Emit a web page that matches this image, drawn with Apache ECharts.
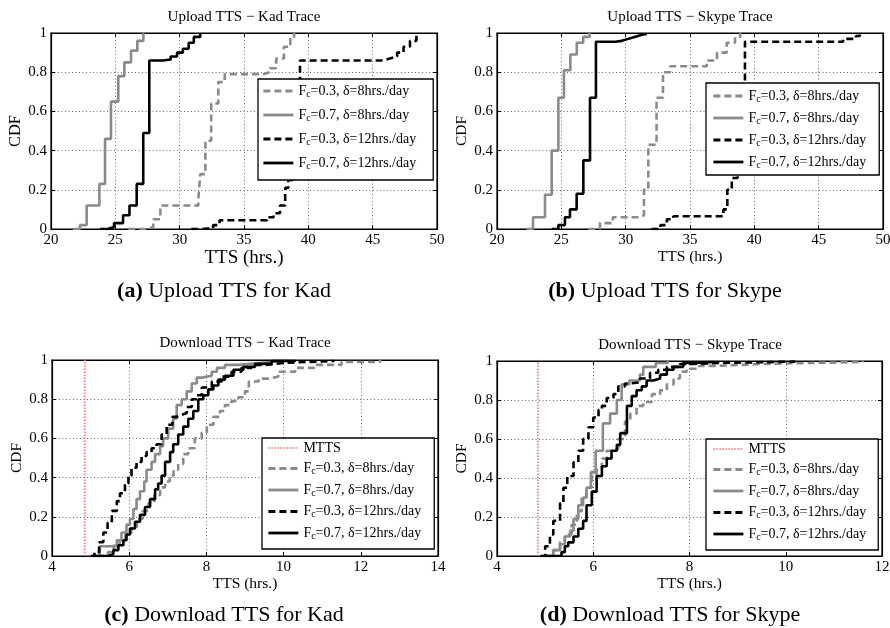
<!DOCTYPE html>
<html>
<head>
<meta charset="utf-8">
<script src="https://cdn.jsdelivr.net/npm/echarts@6/dist/echarts.min.js"></script>
<style>
  html, body { margin: 0; padding: 0; background: #fff; }
  #chart { width: 890px; height: 628px; }
</style>
</head>
<body>
<div id="chart"></div>
<script>
// ---- Upload TTS, Kad trace (x: hours, y: CDF) ----
const upKadX_03_8  = [26.0, 27.4, 27.95, 28.5, 31.45, 31.6, 32.0, 32.45, 33.0, 33.5, 36.5, 37.0, 37.5, 38.1, 38.6, 38.9];
const upKadY_03_8  = [0, 0.01, 0.05, 0.12, 0.15, 0.28, 0.45, 0.64, 0.75, 0.79, 0.80, 0.82, 0.87, 0.93, 0.97, 1.0];
const upKadX_07_8  = [21.7, 22.25, 22.77, 23.76, 24.2, 24.66, 25.23, 25.7, 26.22, 26.71, 27.18];
const upKadY_07_8  = [0, 0.02, 0.12, 0.23, 0.46, 0.65, 0.78, 0.85, 0.91, 0.96, 1.0];
const upKadX_03_12 = [30.9, 31.8, 32.6, 33.1, 36.8, 37.3, 37.8, 38.2, 38.45, 38.9, 39.35, 45.8, 46.35, 46.9, 47.4, 47.9, 48.4];
const upKadY_03_12 = [0, 0.005, 0.02, 0.045, 0.06, 0.08, 0.12, 0.21, 0.25, 0.5, 0.86, 0.87, 0.88, 0.9, 0.93, 0.96, 0.99];
const upKadX_07_12 = [23.8, 24.4, 24.9, 25.6, 26.1, 26.66, 27.17, 27.64, 28.7, 29.3, 29.8, 30.25, 30.7, 31.1, 31.6];
const upKadY_07_12 = [0, 0.01, 0.03, 0.07, 0.12, 0.23, 0.49, 0.86, 0.865, 0.88, 0.9, 0.92, 0.95, 0.98, 1.0];

// ---- Upload TTS, Skype trace ----
const upSkyX_03_8  = [27.1, 28.0, 29.0, 31.1, 31.42, 31.76, 32.4, 32.9, 33.45, 36.3, 37.1, 37.85, 38.5, 38.9];
const upSkyY_03_8  = [0, 0.03, 0.06, 0.07, 0.2, 0.43, 0.67, 0.8, 0.83, 0.86, 0.9, 0.95, 0.98, 1.0];
const upSkyX_07_8  = [22.3, 22.8, 23.73, 24.25, 24.77, 25.2, 25.7, 26.2, 26.7, 27.2];
const upSkyY_07_8  = [0, 0.06, 0.175, 0.40, 0.67, 0.81, 0.89, 0.95, 0.98, 1.0];
const upSkyX_03_12 = [32.0, 32.7, 33.2, 33.7, 37.6, 37.9, 38.25, 38.7, 39.27, 46.9, 47.9, 48.2];
const upSkyY_03_12 = [0, 0.02, 0.05, 0.065, 0.1, 0.2, 0.26, 0.5, 0.955, 0.97, 0.985, 1.0];
const upSkyX_07_12 = [24.25, 24.77, 25.28, 25.67, 26.19, 26.71, 27.23, 27.69, 29.2, 29.7, 30.2, 30.7, 31.2, 31.6];
const upSkyY_07_12 = [0, 0.02, 0.06, 0.10, 0.18, 0.35, 0.67, 0.955, 0.96, 0.97, 0.98, 0.99, 0.995, 1.0];

// ---- Download TTS, Kad trace ----
const dnKadX_03_8  = [5.2, 5.45, 5.6, 5.75, 5.9, 6.05, 6.2, 6.35, 6.5, 6.65, 6.8, 6.93, 7.05, 7.15, 7.27, 7.4, 7.53, 7.7, 7.88, 8.01, 8.18, 8.35, 8.48, 8.65, 8.83, 9.0, 9.1, 9.35, 9.6, 9.86, 10.3, 10.8, 11.5, 12.5];
const dnKadY_03_8  = [0, 0.02, 0.05, 0.08, 0.11, 0.15, 0.19, 0.23, 0.27, 0.31, 0.35, 0.38, 0.41, 0.44, 0.47, 0.52, 0.55, 0.6, 0.63, 0.67, 0.71, 0.74, 0.77, 0.79, 0.81, 0.84, 0.89, 0.905, 0.915, 0.94, 0.96, 0.975, 0.99, 1.0];
const dnKadX_07_8  = [5.0, 5.24, 5.55, 5.68, 5.8, 5.93, 6.02, 6.11, 6.19, 6.28, 6.39, 6.45, 6.58, 6.67, 6.8, 6.88, 7.01, 7.14, 7.23, 7.36, 7.49, 7.62, 7.75, 7.88, 8.14, 8.27, 8.48, 8.83, 9.35, 10.0];
const dnKadY_07_8  = [0, 0.05, 0.055, 0.08, 0.12, 0.16, 0.19, 0.24, 0.29, 0.33, 0.38, 0.44, 0.48, 0.52, 0.56, 0.6, 0.65, 0.7, 0.77, 0.8, 0.84, 0.88, 0.91, 0.92, 0.94, 0.96, 0.975, 0.985, 0.995, 1.0];
const dnKadX_03_12 = [5.0, 5.1, 5.22, 5.33, 5.44, 5.55, 5.68, 5.76, 5.89, 5.98, 6.06, 6.19, 6.32, 6.45, 6.58, 6.71, 6.84, 6.97, 7.12, 7.23, 7.36, 7.49, 7.62, 7.75, 7.88, 8.14, 8.4, 8.65, 8.91, 9.17, 9.52, 10.0, 10.6, 11.3];
const dnKadY_03_12 = [0, 0.02, 0.07, 0.12, 0.17, 0.23, 0.28, 0.32, 0.37, 0.41, 0.45, 0.48, 0.51, 0.53, 0.55, 0.57, 0.62, 0.67, 0.71, 0.72, 0.73, 0.76, 0.8, 0.82, 0.86, 0.89, 0.915, 0.94, 0.96, 0.975, 0.985, 0.99, 0.995, 1.0];
const dnKadX_07_12 = [5.1, 5.46, 5.59, 5.72, 5.85, 5.93, 6.02, 6.15, 6.28, 6.41, 6.54, 6.67, 6.75, 6.84, 6.93, 7.06, 7.14, 7.27, 7.4, 7.53, 7.66, 7.79, 7.92, 8.05, 8.18, 8.31, 8.48, 8.7, 8.96, 9.26, 9.69, 10.3];
const dnKadY_07_12 = [0, 0.01, 0.03, 0.055, 0.08, 0.11, 0.14, 0.175, 0.21, 0.25, 0.29, 0.34, 0.37, 0.41, 0.48, 0.53, 0.57, 0.62, 0.66, 0.7, 0.74, 0.8, 0.82, 0.85, 0.87, 0.9, 0.92, 0.95, 0.965, 0.98, 0.995, 1.0];

// ---- Download TTS, Skype trace ----
const dnSkyX_03_8  = [5.0, 5.17, 5.31, 5.41, 5.55, 5.66, 5.76, 5.86, 5.97, 6.07, 6.18, 6.28, 6.38, 6.52, 6.66, 6.77, 6.9, 7.04, 7.22, 7.39, 7.53, 7.67, 7.8, 7.94, 8.2, 8.6, 9.5, 10.5, 11.6];
const dnSkyY_03_8  = [0, 0.03, 0.07, 0.11, 0.16, 0.23, 0.3, 0.35, 0.42, 0.45, 0.5, 0.54, 0.55, 0.6, 0.69, 0.73, 0.77, 0.79, 0.83, 0.85, 0.88, 0.91, 0.945, 0.96, 0.975, 0.985, 0.99, 0.995, 1.0];
const dnSkyX_07_8  = [5.0, 5.17, 5.31, 5.41, 5.52, 5.59, 5.69, 5.79, 5.86, 5.95, 6.05, 6.2, 6.35, 6.49, 6.59, 6.75, 6.97, 7.04, 7.3, 7.55];
const dnSkyY_07_8  = [0, 0.03, 0.06, 0.1, 0.13, 0.19, 0.26, 0.3, 0.35, 0.43, 0.54, 0.68, 0.73, 0.8, 0.88, 0.9, 0.93, 0.97, 0.99, 1.0];
const dnSkyX_03_12 = [4.9, 5.0, 5.1, 5.17, 5.31, 5.38, 5.46, 5.59, 5.69, 5.79, 5.9, 6.0, 6.11, 6.18, 6.28, 6.42, 6.52, 6.66, 6.77, 6.97, 7.18, 7.35, 7.53, 7.8, 8.08, 8.6, 9.3, 10.2];
const dnSkyY_03_12 = [0, 0.05, 0.11, 0.18, 0.27, 0.35, 0.41, 0.48, 0.54, 0.6, 0.66, 0.71, 0.75, 0.77, 0.81, 0.83, 0.87, 0.885, 0.89, 0.91, 0.94, 0.955, 0.97, 0.985, 0.99, 0.993, 0.997, 1.0];
const dnSkyX_07_12 = [5.0, 5.34, 5.41, 5.48, 5.59, 5.69, 5.79, 5.86, 5.97, 6.07, 6.18, 6.28, 6.38, 6.49, 6.56, 6.7, 6.8, 6.9, 7.01, 7.11, 7.25, 7.39, 7.53, 7.67, 7.87, 8.1, 8.5];
const dnSkyY_07_12 = [0, 0.02, 0.05, 0.07, 0.1, 0.14, 0.18, 0.26, 0.33, 0.41, 0.46, 0.5, 0.54, 0.57, 0.63, 0.77, 0.82, 0.85, 0.87, 0.9, 0.91, 0.93, 0.955, 0.97, 0.99, 0.995, 1.0];

// minimum theoretical TTS (vertical reference line on the download plots)
const mttsX = [4.85, 4.85];
const mttsY = [0, 1];

// legend labels
const NAME_03_8  = 'Fc=0.3, δ=8hrs./day';
const NAME_07_8  = 'Fc=0.7, δ=8hrs./day';
const NAME_03_12 = 'Fc=0.3, δ=12hrs./day';
const NAME_07_12 = 'Fc=0.7, δ=12hrs./day';
const NAME_MTTS  = 'MTTS';

// panel titles and captions
const panelTitles = ['Upload TTS − Kad Trace', 'Upload TTS − Skype Trace', 'Download TTS − Kad Trace', 'Download TTS − Skype Trace'];
const captionTags = ['(a)', '(b)', '(c)', '(d)'];
const captionTexts = ['Upload TTS for Kad', 'Upload TTS for Skype', 'Download TTS for Kad', 'Download TTS for Skype'];

const FONT = 'Liberation Serif';
const GREY = '#8a8a8a';
const BLACK = '#000000';

const pairs = (xs, ys) => xs.map((x, i) => [x, ys[i]]);

// grid boxes for the four panels
const grids = [
  { left: 51,  top: 33,  width: 386, height: 196 },
  { left: 497, top: 33,  width: 386, height: 196 },
  { left: 52,  top: 360, width: 386, height: 196 },
  { left: 497, top: 361, width: 385, height: 195 }
];
const xRanges = [[20, 50, 5], [20, 50, 5], [4, 14, 2], [4, 12, 2]];
const xNameSize = [19, 15.5, 15.5, 15.5];
const xNameGap  = [17, 17, 17, 17];
const yNameSize = [16.5, 15.5, 15.5, 15.5];

const xAxes = [], yAxes = [];
grids.forEach((g, i) => {
  const [mn, mx, step] = xRanges[i];
  const common = {
    gridIndex: i, type: 'value', min: mn, max: mx, interval: step,
    axisLine: { show: true, onZero: false, lineStyle: { color: '#000', width: 1.2 } },
    axisTick: { show: true, inside: true, length: 4, lineStyle: { color: '#000', width: 1 } }
  };
  xAxes.push(Object.assign({}, common, {
    position: 'bottom',
    name: 'TTS (hrs.)', nameLocation: 'middle', nameGap: xNameGap[i],
    nameTextStyle: { fontFamily: FONT, fontSize: xNameSize[i], color: '#000' },
    axisLabel: { fontFamily: FONT, fontSize: 15, color: '#000', margin: 4, showMinLabel: true, showMaxLabel: true },
    splitLine: { show: true, lineStyle: { color: '#6a6a6a', type: [1, 2.5], width: 1 } }
  }));
  xAxes.push(Object.assign({}, common, {
    position: 'top', axisLabel: { show: false }, splitLine: { show: false }
  }));
  const yCommon = {
    gridIndex: i, type: 'value', min: 0, max: 1, interval: 0.2,
    axisLine: { show: true, onZero: false, lineStyle: { color: '#000', width: 1.2 } },
    axisTick: { show: true, inside: true, length: 4, lineStyle: { color: '#000', width: 1 } }
  };
  yAxes.push(Object.assign({}, yCommon, {
    position: 'left',
    name: 'CDF', nameLocation: 'middle', nameGap: 27,
    nameTextStyle: { fontFamily: FONT, fontSize: yNameSize[i], color: '#000' },
    axisLabel: { fontFamily: FONT, fontSize: 15, color: '#000', margin: 4, showMinLabel: true, showMaxLabel: true },
    splitLine: { show: true, lineStyle: { color: '#6a6a6a', type: [1, 2.5], width: 1 } }
  }));
  yAxes.push(Object.assign({}, yCommon, {
    position: 'right', axisLabel: { show: false }, splitLine: { show: false }
  }));
});

const styles = {
  [NAME_03_8]:  { color: GREY,  width: 2.6, type: [7, 4] },
  [NAME_07_8]:  { color: GREY,  width: 2.6, type: 'solid' },
  [NAME_03_12]: { color: BLACK, width: 2.6, type: [7, 4] },
  [NAME_07_12]: { color: BLACK, width: 2.6, type: 'solid' }
};

function cdfSeries(panel, name, xs, ys) {
  return {
    type: 'line', name: name, xAxisIndex: panel * 2, yAxisIndex: panel * 2,
    data: pairs(xs, ys), step: 'end', symbol: 'none', showSymbol: false,
    lineStyle: Object.assign({}, styles[name]), itemStyle: { color: styles[name].color },
    silent: true, z: 3
  };
}
function mttsSeries(panel) {
  return {
    type: 'line', name: NAME_MTTS, xAxisIndex: panel * 2, yAxisIndex: panel * 2,
    data: pairs(mttsX, mttsY), symbol: 'none', showSymbol: false,
    lineStyle: { color: '#ff6b6b', width: 1.5, type: [1.5, 1.5] }, itemStyle: { color: '#ff6b6b' },
    silent: true, z: 2
  };
}

const series = [
  cdfSeries(0, NAME_03_8, upKadX_03_8, upKadY_03_8),
  cdfSeries(0, NAME_07_8, upKadX_07_8, upKadY_07_8),
  cdfSeries(0, NAME_03_12, upKadX_03_12, upKadY_03_12),
  cdfSeries(0, NAME_07_12, upKadX_07_12, upKadY_07_12),
  cdfSeries(1, NAME_03_8, upSkyX_03_8, upSkyY_03_8),
  cdfSeries(1, NAME_07_8, upSkyX_07_8, upSkyY_07_8),
  cdfSeries(1, NAME_03_12, upSkyX_03_12, upSkyY_03_12),
  cdfSeries(1, NAME_07_12, upSkyX_07_12, upSkyY_07_12),
  mttsSeries(2),
  cdfSeries(2, NAME_03_8, dnKadX_03_8, dnKadY_03_8),
  cdfSeries(2, NAME_07_8, dnKadX_07_8, dnKadY_07_8),
  cdfSeries(2, NAME_03_12, dnKadX_03_12, dnKadY_03_12),
  cdfSeries(2, NAME_07_12, dnKadX_07_12, dnKadY_07_12),
  mttsSeries(3),
  cdfSeries(3, NAME_03_8, dnSkyX_03_8, dnSkyY_03_8),
  cdfSeries(3, NAME_07_8, dnSkyX_07_8, dnSkyY_07_8),
  cdfSeries(3, NAME_03_12, dnSkyX_03_12, dnSkyY_03_12),
  cdfSeries(3, NAME_07_12, dnSkyX_07_12, dnSkyY_07_12)
];

// legend text: "F" with subscript "c"
function legendLabel(name) {
  if (name.indexOf('Fc') === 0) return '{n|F}{s|c}{n|' + name.slice(2) + '}';
  return '{n|' + name + '}';
}
const legendRich = {
  n: { fontFamily: FONT, fontSize: 14, color: '#000', lineHeight: 16 },
  s: { fontFamily: FONT, fontSize: 10, color: '#000', lineHeight: 8, verticalAlign: 'bottom' }
};
function makeLegend(names, left, top, padding, gap) {
  return {
    data: names, orient: 'vertical', left: left, top: top, padding: padding, itemGap: gap,
    itemWidth: 30, itemHeight: 14, selectedMode: false,
    backgroundColor: '#fff', borderColor: '#000', borderWidth: 1.3, borderRadius: 0,
    itemStyle: { opacity: 0 },
    lineStyle: { width: 2.8 },
    formatter: legendLabel,
    textStyle: { fontFamily: FONT, fontSize: 14, color: '#000', rich: legendRich },
    z: 10
  };
}
const fourNames = [NAME_03_8, NAME_07_8, NAME_03_12, NAME_07_12];
// the MTTS entry keeps a thin dotted icon
const fiveNames = [{ name: NAME_MTTS, lineStyle: { width: 1.5 } }].concat(fourNames);

// titles above each panel and sub-figure captions below
const titleCenters = [[244, 17], [690, 17], [245, 343], [690, 345]];
const captionCenters = [[224, 291], [665, 291], [224, 615], [670, 615]];
const graphics = [];
panelTitles.forEach((t, i) => {
  graphics.push({
    type: 'text', x: titleCenters[i][0], y: titleCenters[i][1], silent: true,
    style: { text: t, fontFamily: FONT, fontSize: 15, fill: '#000', align: 'center', verticalAlign: 'middle' }
  });
});
captionTags.forEach((tag, i) => {
  graphics.push({
    type: 'text', x: captionCenters[i][0], y: captionCenters[i][1], silent: true,
    style: {
      text: '{b|' + tag + '} {r|' + captionTexts[i] + '}',
      align: 'center', verticalAlign: 'middle',
      rich: {
        b: { fontFamily: FONT, fontSize: 22, fontWeight: 'bold', fill: '#000' },
        r: { fontFamily: FONT, fontSize: 22, fill: '#000' }
      },
      fontFamily: FONT, fontSize: 22, fill: '#000'
    }
  });
});

const chart = echarts.init(document.getElementById('chart'), null, { renderer: 'canvas' });
chart.setOption({
  animation: false,
  backgroundColor: '#fff',
  grid: grids.map(g => Object.assign({
    show: true, borderColor: '#000', borderWidth: 1.2, backgroundColor: 'transparent',
    containLabel: false, outerBoundsMode: 'none'
  }, g)),
  xAxis: xAxes,
  yAxis: yAxes,
  legend: [
    makeLegend(fourNames, 258, 79, [5, 17, 9, 4], 9),
    makeLegend(fourNames, 706, 83, [6, 13, 5, 6], 7),
    makeLegend(fiveNames, 262, 438, [3, 13, 8, 5], 6.5),
    makeLegend(fiveNames, 706, 439, [3, 12, 8, 6], 6.5)
  ],
  series: series,
  graphic: graphics
});
</script>
</body>
</html>
